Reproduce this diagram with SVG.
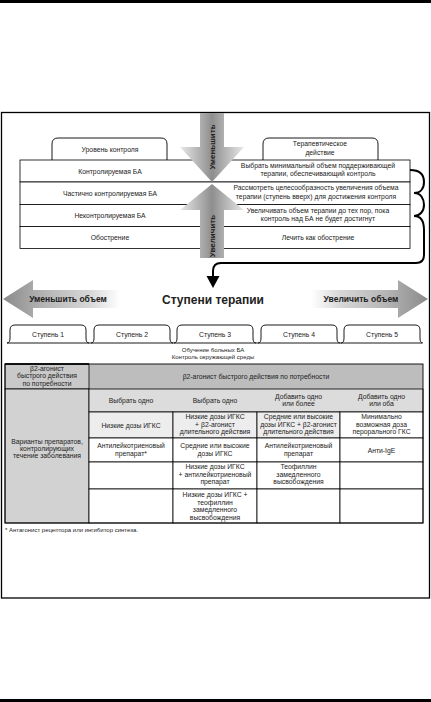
<svg xmlns="http://www.w3.org/2000/svg" width="431" height="702" viewBox="0 0 431 702">
<defs>
<style>
text{font-family:"Liberation Sans",Arial,sans-serif;fill:#222;}
.t7{font-size:6.8px;text-anchor:middle;}
.t6{font-size:6px;text-anchor:middle;}
.b{font-weight:bold;}
.ln{fill:none;stroke:#000;stroke-width:0.9;}
.cell{stroke:#000;stroke-width:0.8;}
.con{fill:none;stroke:#000;stroke-width:2;}
</style>
<linearGradient id="gv" gradientUnits="userSpaceOnUse" x1="180" y1="0" x2="244" y2="0">
<stop offset="0" stop-color="#e8e8e8"/><stop offset="0.5" stop-color="#8e8e8e"/><stop offset="1" stop-color="#e8e8e8"/>
</linearGradient>
<linearGradient id="gl" gradientUnits="userSpaceOnUse" x1="3" y1="0" x2="120" y2="0">
<stop offset="0" stop-color="#8a8a8a"/><stop offset="0.35" stop-color="#b4b4b4"/><stop offset="0.75" stop-color="#d8d8d8"/><stop offset="1" stop-color="#ffffff"/>
</linearGradient>
<linearGradient id="gr" gradientUnits="userSpaceOnUse" x1="428" y1="0" x2="311" y2="0">
<stop offset="0" stop-color="#8a8a8a"/><stop offset="0.35" stop-color="#b4b4b4"/><stop offset="0.75" stop-color="#d8d8d8"/><stop offset="1" stop-color="#ffffff"/>
</linearGradient>
</defs>
<rect x="0" y="0" width="431" height="702" fill="#fff"/>
<rect x="0" y="0" width="431" height="3" fill="#000"/>
<rect x="0" y="699" width="431" height="3" fill="#000"/>
<rect x="1.5" y="112.5" width="428" height="485.5" fill="none" stroke="#000" stroke-width="1.3"/>

<g id="control-header">
<path class="ln" d="M52,160 L52,144 Q52,138 58,138 L161,138 Q167,138 167,144 L167,160" fill="#fff"/>
<text class="t7" x="110" y="151.5">Уровень контроля</text>
<path class="ln" d="M263,160 L263,144 Q263,138 269,138 L372,138 Q378,138 378,144 L378,160" fill="#fff"/>
<text class="t7" x="320" y="145.5">Терапевтическое</text>
<text class="t7" x="320" y="154.5">действие</text>
</g>
<g id="control-rows">
<rect class="cell" x="20" y="160" width="390" height="22" fill="#fff"/>
<rect class="cell" x="20" y="182" width="390" height="22.5" fill="#fff"/>
<rect class="cell" x="20" y="204.5" width="390" height="22" fill="#fff"/>
<rect class="cell" x="20" y="226.5" width="390" height="22" fill="#fff"/>
<text class="t7" x="110" y="173.5">Контролируемая БА</text>
<text class="t7" x="110" y="195.5">Частично контролируемая БА</text>
<text class="t7" x="110" y="217.5">Неконтролируемая БА</text>
<text class="t7" x="110" y="239.5">Обострение</text>
<text class="t7" x="318" y="168">Выбрать минимальный объем поддерживающей</text>
<text class="t7" x="318" y="176">терапии, обеспечивающий контроль</text>
<text class="t7" x="316" y="190">Рассмотреть целесообразность увеличения объема</text>
<text class="t7" x="316" y="198.5">терапии (ступень вверх) для достижения контроля</text>
<text class="t7" x="318" y="212.5">Увеличивать объем терапии до тех пор, пока</text>
<text class="t7" x="318" y="221">контроль над БА не будет достигнут</text>
<text class="t7" x="318" y="239.5">Лечить как обострение</text>
</g>
<g id="arrow-down">
<polygon points="200,113 224,113 224,147 244,147 212,182 180,147 200,147" fill="url(#gv)"/>
<text class="b" font-size="8" text-anchor="middle" transform="translate(215,147) rotate(-90)">Уменьшить</text>
</g>
<g id="arrow-up">
<polygon points="212,184 244,210 224,210 224,258 200,258 200,210 180,210" fill="url(#gv)"/>
<text class="b" font-size="8" text-anchor="middle" transform="translate(215,236) rotate(-90)">Увеличить</text>
</g>
<g id="connectors">
<path class="con" d="M410,170 C421,170 424,176 424,182 C424,189 420,193 414,193"/>
<path class="con" d="M414,193 C421,193 424,199 424,205 C424,211 420,216 414,216"/>
<path class="con" d="M414,216 C421,216 424,222 424,230 L424,255 Q424,263 416,263 L221,263 Q213,263 213,271 L213,277"/>
<polygon points="206.5,276 219.5,276 213,288" fill="#000"/>
</g>
<g id="arrow-left">
<polygon points="3,299 33,280 33,290 120,290 120,308 33,308 33,318" fill="url(#gl)"/>
<text class="b" font-size="8.5" text-anchor="middle" x="68" y="302">Уменьшить объем</text>
</g>
<g id="title">
<text class="b" font-size="12" text-anchor="middle" x="213" y="304">Ступени терапии</text>
</g>
<g id="arrow-right">
<polygon points="428,299 398,280 398,290 311,290 311,308 398,308 398,318" fill="url(#gr)"/>
<text class="b" font-size="8.5" text-anchor="middle" x="361" y="302">Увеличить объем</text>
</g>
<g id="steps">
<line class="ln" x1="7" y1="343" x2="422" y2="343"/>
<path class="ln" d="M7,343 Q10,343 10,338 L10,330 Q10,325 15,325 L81,325 Q86,325 86,330 L86,338 Q86,343 89,343"/>
<path class="ln" d="M91,343 Q94,343 94,338 L94,330 Q94,325 99,325 L165,325 Q170,325 170,330 L170,338 Q170,343 173,343"/>
<path class="ln" d="M174,343 Q177,343 177,338 L177,330 Q177,325 182,325 L248,325 Q253,325 253,330 L253,338 Q253,343 256,343"/>
<path class="ln" d="M258,343 Q261,343 261,338 L261,330 Q261,325 266,325 L332,325 Q337,325 337,330 L337,338 Q337,343 340,343"/>
<path class="ln" d="M341,343 Q344,343 344,338 L344,330 Q344,325 349,325 L415,325 Q420,325 420,330 L420,338 Q420,343 423,343"/>
<text class="t7" x="48" y="337">Ступень 1</text>
<text class="t7" x="132" y="337">Ступень 2</text>
<text class="t7" x="215" y="337">Ступень 3</text>
<text class="t7" x="299" y="337">Ступень 4</text>
<text class="t7" x="382" y="337">Ступень 5</text>
<text class="t6" x="213" y="352">Обучение больных БА</text>
<text class="t6" x="213" y="359">Контроль окружающей среды</text>
</g>
<g id="table">
<rect x="89" y="364" width="334" height="25" fill="#bdbdbd"/>
<rect x="5" y="364" width="84" height="25" fill="#c9c9c9" stroke="#000" stroke-width="0.8"/>
<line x1="5" y1="364" x2="89" y2="364" stroke="#000" stroke-width="1.6"/>
<rect class="cell" x="5" y="389" width="84" height="134" fill="#d2d2d2"/>
<rect class="cell" x="89" y="389" width="334" height="23" fill="#dcdcdc"/>
<rect class="cell" x="89" y="412" width="84" height="26" fill="#ededed"/>
<rect class="cell" x="173" y="412" width="84" height="26" fill="#ededed"/>
<rect class="cell" x="257" y="412" width="83" height="26" fill="#ededed"/>
<rect class="cell" x="340" y="412" width="83" height="26" fill="#fff"/>
<rect class="cell" x="89" y="438" width="84" height="24" fill="#fff"/>
<rect class="cell" x="173" y="438" width="84" height="24" fill="#fff"/>
<rect class="cell" x="257" y="438" width="83" height="24" fill="#fff"/>
<rect class="cell" x="340" y="438" width="83" height="24" fill="#fff"/>
<rect class="cell" x="89" y="462" width="84" height="27" fill="#fff"/>
<rect class="cell" x="173" y="462" width="84" height="27" fill="#fff"/>
<rect class="cell" x="257" y="462" width="83" height="27" fill="#fff"/>
<rect class="cell" x="340" y="462" width="83" height="27" fill="#fff"/>
<rect class="cell" x="89" y="489" width="84" height="34" fill="#fff"/>
<rect class="cell" x="173" y="489" width="84" height="34" fill="#fff"/>
<rect class="cell" x="257" y="489" width="83" height="34" fill="#fff"/>
<rect class="cell" x="340" y="489" width="83" height="34" fill="#fff"/>
<rect x="5" y="364" width="418" height="159" fill="none" stroke="#000" stroke-width="0.9"/>
<text class="t7" x="47" y="370.5">β2-агонист</text>
<text class="t7" x="47" y="378">быстрого действия</text>
<text class="t7" x="47" y="385.5">по потребности</text>
<text class="t7" x="256" y="379">β2-агонист быстрого действия по потребности</text>
<text class="t7" x="47" y="443.5">Варианты препаратов,</text>
<text class="t7" x="47" y="450.5">контролирующих</text>
<text class="t7" x="47" y="457.5">течение заболевания</text>
<text class="t7" x="131" y="402.5">Выбрать одно</text>
<text class="t7" x="215" y="402.5">Выбрать одно</text>
<text class="t7" x="298.5" y="398.5">Добавить одно</text>
<text class="t7" x="298.5" y="406">или более</text>
<text class="t7" x="381.5" y="398.5">Добавить одно</text>
<text class="t7" x="381.5" y="406">или оба</text>
<text class="t7" x="131" y="427.5">Низкие дозы ИГКС</text>
<text class="t7" x="215" y="419">Низкие дозы ИГКС</text>
<text class="t7" x="215" y="426.5">+ β2-агонист</text>
<text class="t7" x="215" y="434">длительного действия</text>
<text class="t7" x="298.5" y="419">Средние или высокие</text>
<text class="t7" x="298.5" y="426.5">дозы ИГКС + β2-агонист</text>
<text class="t7" x="298.5" y="434">длительного действия</text>
<text class="t7" x="381.5" y="419">Минимально</text>
<text class="t7" x="381.5" y="426.5">возможная доза</text>
<text class="t7" x="381.5" y="434">перорального ГКС</text>
<text class="t7" x="131" y="448">Антилейкотриеновый</text>
<text class="t7" x="131" y="455.5">препарат*</text>
<text class="t7" x="215" y="448">Средние или высокие</text>
<text class="t7" x="215" y="455.5">дозы ИГКС</text>
<text class="t7" x="298.5" y="448">Антилейкотриеновый</text>
<text class="t7" x="298.5" y="455.5">препарат</text>
<text class="t7" x="381.5" y="452.5">Анти-IgE</text>
<text class="t7" x="215" y="469">Низкие дозы ИГКС</text>
<text class="t7" x="215" y="476.5">+ антилейкотриеновый</text>
<text class="t7" x="215" y="484">препарат</text>
<text class="t7" x="298.5" y="469">Теофиллин</text>
<text class="t7" x="298.5" y="476.5">замедленного</text>
<text class="t7" x="298.5" y="484">высвобождения</text>
<text class="t7" x="215" y="497">Низкие дозы ИГКС +</text>
<text class="t7" x="215" y="504.5">теофиллин</text>
<text class="t7" x="215" y="512">замедленного</text>
<text class="t7" x="215" y="519.5">высвобождения</text>
</g>
<text font-size="6" x="5" y="532">* Антагонист рецептора или ингибитор синтеза.</text>
</svg>
